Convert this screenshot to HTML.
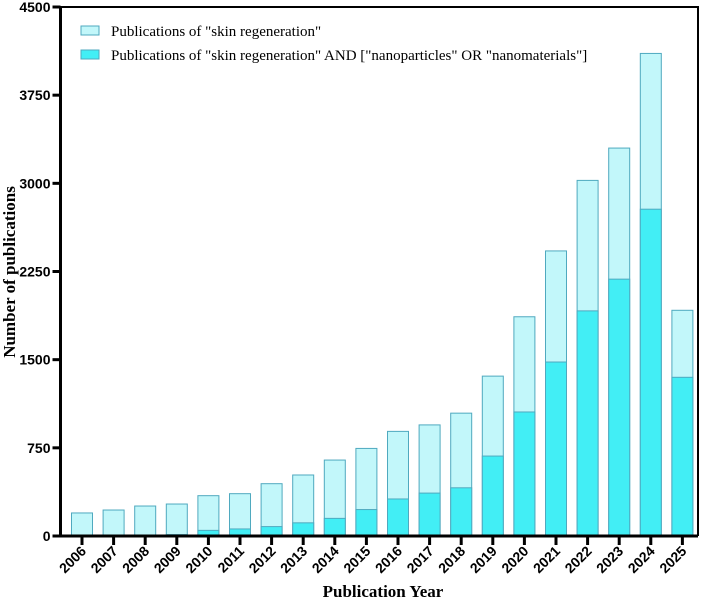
<!DOCTYPE html>
<html><head><meta charset="utf-8"><style>
body{margin:0;background:#fff;width:709px;height:604px;overflow:hidden}
svg{display:block}
</style></head><body>
<svg id="chart" width="709" height="604">
<g id="bars"></g>
<g id="axes"></g>
</svg>
<script>
const years=['2006','2007','2008','2009','2010','2011','2012','2013','2014','2015','2016','2017','2018','2019','2020','2021','2022','2023','2024','2025'];
const totalPubs=[196,221,255,272,343,360,445,519,646,745,890,945,1045,1360,1865,2425,3025,3300,4105,1920];
const nanoPubs=[2,3,5,12,48,60,80,112,150,225,315,365,410,680,1055,1480,1915,2185,2780,1350];
const yTicks=[0,750,1500,2250,3000,3750,4500];
const NS='http://www.w3.org/2000/svg';
const x0=60.5,y0=536,yTop=7,xRight=698,step=31.6,firstC=82,bw=21;
const y=v=>y0-(v/4500)*(y0-yTop);
const xc=i=>firstC+i*step;
function mk(tag,attrs,parent){const e=document.createElementNS(NS,tag);for(const k in attrs)e.setAttribute(k,attrs[k]);parent.appendChild(e);return e;}
const bars=document.getElementById('bars'),axes=document.getElementById('axes');
years.forEach((yr,i)=>{
 let r=mk('rect',{x:xc(i)-bw/2,y:y(totalPubs[i]),width:bw,height:y0-y(totalPubs[i]),fill:'#c2f7fa',stroke:'#4fa9bf','stroke-width':1},bars);
 
 
 let r2=mk('rect',{x:xc(i)-bw/2,y:y(nanoPubs[i]),width:bw,height:y0-y(nanoPubs[i]),fill:'#42eef5',stroke:'#4fa9bf','stroke-width':1},bars);
 
 
 let t=mk('line',{x1:xc(i),x2:xc(i),y1:y0,y2:y0+9,stroke:'#000','stroke-width':3},axes);
 
 
 let lb=mk('text',{x:xc(i)+5,y:y0+16,'text-anchor':'end','font-family':'Liberation Sans, sans-serif','font-weight':'bold','font-size':'14',transform:`rotate(-45 ${xc(i)+5} ${y0+16})`},axes);
 lb.textContent=yr;
 
 
});
yTicks.forEach(v=>{
 let t=mk('line',{x1:x0-8,x2:x0,y1:y(v),y2:y(v),stroke:'#000','stroke-width':3},axes);
 
 
 let lb=mk('text',{x:x0-10,y:y(v)+5,'text-anchor':'end','font-family':'Liberation Sans, sans-serif','font-weight':'bold','font-size':'14'},axes);
 lb.textContent=v;
 
 
});
</script>
<svg style="position:absolute;left:0;top:0" width="709" height="604">
<path d="M60.5 7 H698 V536" fill="none" stroke="#000" stroke-width="2"/>
<line x1="60.5" y1="6" x2="60.5" y2="537.5" stroke="#000" stroke-width="3"/>
<line x1="59" y1="536" x2="698" y2="536" stroke="#000" stroke-width="3"/>
<g font-family="Liberation Serif, serif" font-size="15">
<rect x="81" y="26" width="18" height="9" fill="#c2f7fa" stroke="#4fa9bf"/>
<text x="111" y="36">Publications of "skin regeneration"</text>
<rect x="81" y="50" width="18" height="9" fill="#42eef5" stroke="#4fa9bf"/>
<text x="111" y="60">Publications of "skin regeneration" AND ["nanoparticles" OR "nanomaterials"]</text>
</g>
<text x="15" y="272" transform="rotate(-90 15 272)" text-anchor="middle" font-family="Liberation Serif, serif" font-weight="bold" font-size="17">Number of publications</text>
<text x="383" y="597" text-anchor="middle" font-family="Liberation Serif, serif" font-weight="bold" font-size="17">Publication Year</text>
</svg>
</body></html>
